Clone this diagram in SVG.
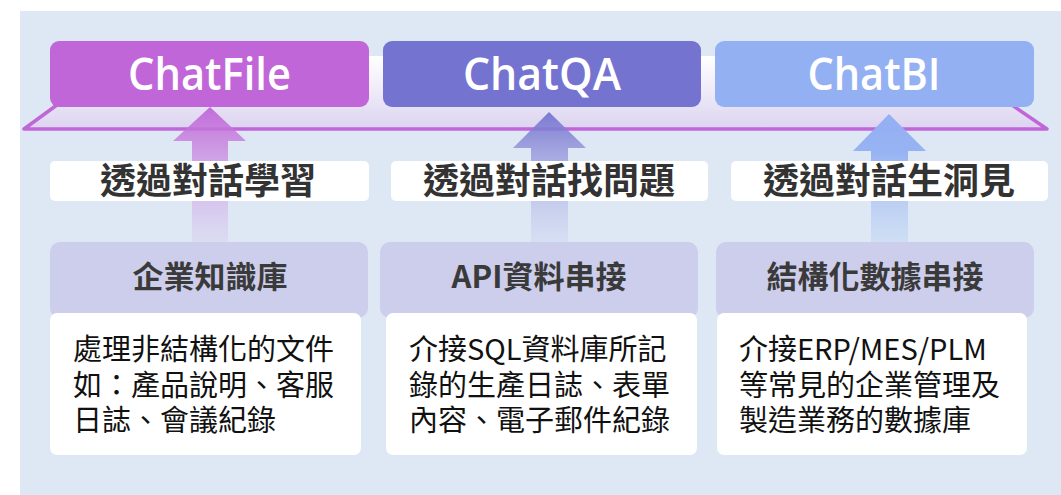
<svg xmlns="http://www.w3.org/2000/svg" width="1061" height="495" viewBox="0 0 1061 495">
<defs>
<linearGradient id="platGrad" x1="0" y1="56" x2="0" y2="129" gradientUnits="userSpaceOnUse">
<stop offset="0" stop-color="#ffffff"/>
<stop offset="1" stop-color="#dcd4f0"/>
</linearGradient>
<linearGradient id="arrFile" x1="0" y1="107" x2="0" y2="242" gradientUnits="userSpaceOnUse">
<stop offset="0" stop-color="#c066d9" stop-opacity="0.95"/>
<stop offset="0.3" stop-color="#c77ddd" stop-opacity="0.75"/>
<stop offset="1" stop-color="#d8c4ee" stop-opacity="0.35"/>
</linearGradient>
<linearGradient id="arrQA" x1="0" y1="112" x2="0" y2="242" gradientUnits="userSpaceOnUse">
<stop offset="0" stop-color="#7474d0" stop-opacity="0.95"/>
<stop offset="0.3" stop-color="#8e8ed8" stop-opacity="0.75"/>
<stop offset="1" stop-color="#c8cff0" stop-opacity="0.35"/>
</linearGradient>
<linearGradient id="arrBI" x1="0" y1="114" x2="0" y2="242" gradientUnits="userSpaceOnUse">
<stop offset="0" stop-color="#93b0f3" stop-opacity="1"/>
<stop offset="0.3" stop-color="#93b0f3" stop-opacity="0.95"/>
<stop offset="1" stop-color="#c0d4f3" stop-opacity="0.5"/>
</linearGradient>
<style>
.title{font-family:"Open Sans","Noto Sans",sans-serif;font-size:45px;font-weight:600;fill:#ffffff;text-anchor:middle}
.label{font-family:"Noto Sans CJK TC","Noto Sans CJK SC",sans-serif;font-size:36px;font-weight:bold;fill:#333333;text-anchor:middle}
.head{font-family:"Noto Sans CJK TC","Noto Sans CJK SC",sans-serif;font-size:31px;font-weight:bold;fill:#3a3a3a;text-anchor:middle}
.desc{font-family:"Noto Sans CJK TC","Noto Sans CJK SC",sans-serif;font-size:29px;fill:#111111}
.lbox{fill:#ffffff}
.hbox{fill:#cdcdec}
.dbox{fill:#ffffff}
</style>
</defs>
<rect x="0" y="0" width="1061" height="495" fill="#ffffff"/>
<rect x="20" y="11" width="1041" height="484" fill="#dde8f4"/>

<g id="platform">
<polygon points="24,129 1047,129 940,56 124,56" fill="url(#platGrad)"/>
<path d="M124,56 L24,129 L1047,129 L940,56" fill="none" stroke="#c066d9" stroke-width="3.5" stroke-linejoin="round"/>
</g>

<g id="connectors">
<path d="M192,242 L192,141 L173,141 L210,107 L246,141 L228,141 L228,242 Z" fill="url(#arrFile)"/>
<path d="M531,242 L531,148 L513,148 L549,112 L586,148 L568,148 L568,242 Z" fill="url(#arrQA)"/>
<path d="M871,242 L871,151 L853,151 L889,114 L926,151 L908,151 L908,242 Z" fill="url(#arrBI)"/>
</g>

<g id="chatfile">
<rect x="50" y="41" width="319" height="66" rx="9" fill="#c066d9"/>
<text class="title" x="209.5" y="90" textLength="163" lengthAdjust="spacingAndGlyphs">ChatFile</text>
</g>
<g id="chatqa">
<rect x="383" y="41" width="318" height="66" rx="9" fill="#7474d0"/>
<text class="title" x="542" y="90" textLength="158" lengthAdjust="spacingAndGlyphs">ChatQA</text>
</g>
<g id="chatbi">
<rect x="715" y="41" width="319" height="66" rx="9" fill="#93b0f3"/>
<text class="title" x="874" y="90" textLength="133" lengthAdjust="spacingAndGlyphs">ChatBI</text>
</g>

<g id="label-file">
<rect class="lbox" x="50" y="161" width="319" height="40" rx="5"/>
<text class="label" x="208" y="194">透過對話學習</text>
</g>
<g id="label-qa">
<rect class="lbox" x="391" y="161" width="317" height="40" rx="5"/>
<text class="label" x="549" y="194">透過對話找問題</text>
</g>
<g id="label-bi">
<rect class="lbox" x="731" y="161" width="317" height="40" rx="5"/>
<text class="label" x="889" y="194">透過對話生洞見</text>
</g>

<g id="head-file">
<rect class="hbox" x="50" y="242" width="318" height="76" rx="10"/>
<text class="head" x="210" y="288">企業知識庫</text>
</g>
<g id="head-qa">
<rect class="hbox" x="380" y="242" width="318" height="76" rx="10"/>
<text class="head" x="539" y="288">API資料串接</text>
</g>
<g id="head-bi">
<rect class="hbox" x="716" y="242" width="318" height="76" rx="10"/>
<text class="head" x="875" y="288">結構化數據串接</text>
</g>

<g id="desc-file">
<rect class="dbox" x="50" y="313" width="311" height="142" rx="7"/>
<text class="desc" x="73" y="360">處理非結構化的文件</text>
<text class="desc" x="73" y="395.5">如：產品說明、客服</text>
<text class="desc" x="73" y="431">日誌、會議紀錄</text>
</g>
<g id="desc-qa">
<rect class="dbox" x="386" y="313" width="311" height="142" rx="7"/>
<text class="desc" x="409" y="360">介接SQL資料庫所記</text>
<text class="desc" x="409" y="395.5">錄的生產日誌、表單</text>
<text class="desc" x="409" y="431">內容、電子郵件紀錄</text>
</g>
<g id="desc-bi">
<rect class="dbox" x="717" y="313" width="310" height="142" rx="7"/>
<text class="desc" x="739" y="360">介接ERP/MES/PLM</text>
<text class="desc" x="739" y="395.5">等常見的企業管理及</text>
<text class="desc" x="739" y="431">製造業務的數據庫</text>
</g>
</svg>
